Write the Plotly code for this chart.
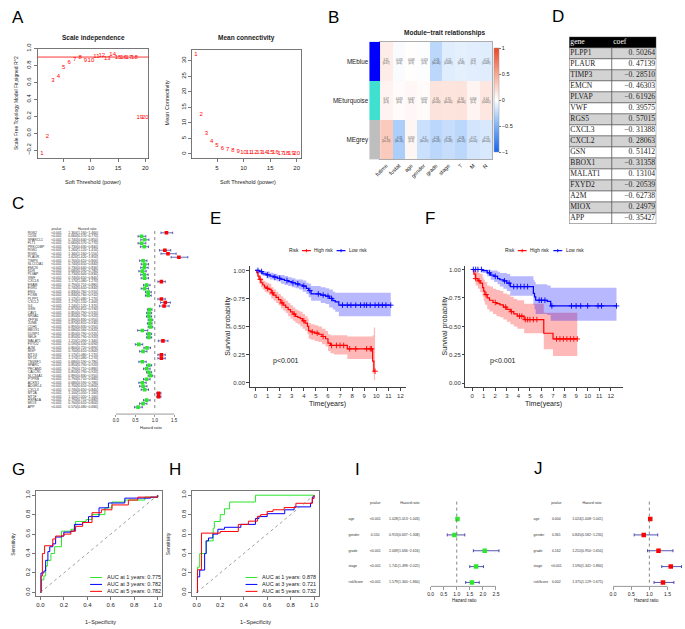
import plotly.graph_objects as go

W, H = 685, 629
FONT = "Liberation Sans"
SERIF = "Liberation Serif"

# ----------------------------- DATA -----------------------------
powers = list(range(1, 21))
sft_r2 = [-0.24, -0.04, 0.62, 0.67, 0.78, 0.83, 0.87, 0.90, 0.86, 0.86,
          0.91, 0.92, 0.88, 0.93, 0.90, 0.90, 0.90, 0.90, 0.18, 0.18]
mean_k = [32.0, 12.7, 6.6, 4.0, 2.7, 1.8, 1.4, 1.0, 0.85, 0.6,
          0.5, 0.45, 0.4, 0.35, 0.3, 0.3, 0.25, 0.25, 0.2, 0.2]

traits = ["futime", "fustat", "age", "gender", "grade", "stage", "T", "M", "N"]
modules = ["MEblue", "MEturquoise", "MEgrey"]
module_colors = ["#0000FF", "#40E0D0", "#BEBEBE"]
cor_blue = [0.11, -0.025, 0.008, -0.013, -0.26, -0.12, -0.1, -0.11, -0.12]
cor_turq = [0.07, 0.023, 0.047, 0.022, 0.16, 0.15, 0.16, 0.056, 0.14]
cor_grey = [0.3, -0.32, 0.053, -0.2, -0.26, -0.22, -0.26, -0.17, -0.15]
p_blue = ["0.07", "0.6", "0.9", "0.8", "6e-06", "0.009", "0.08", "0.1", "0.009"]
p_turq = ["0.3", "0.6", "0.3", "0.6", "2e-04", "4e-04", "6e-04", "0.2", "0.001"]
p_grey = ["1e-13", "6e-16", "0.3", "4e-05", "2e-09", "7e-08", "5e-10", "1e-04", "4e-04"]

table_genes = ["PLPP1", "PLAUR", "TIMP3", "EMCN", "PLVAP", "VWF", "RGS5", "CXCL3",
               "CXCL2", "GSN", "BBOX1", "MALAT1", "FXYD2", "A2M", "MIOX", "APP"]
table_coef = [0.50264, 0.47139, -0.28510, -0.46303, -0.61926, 0.39575, 0.57015, -0.31388,
              0.28063, 0.51412, -0.31358, 0.13104, -0.20539, -0.62738, 0.24979, -0.35427]

c_genes = ["RGS2", "CD34", "SPARCL1", "FLT1", "PRKCDBP", "RGS1", "RGS5", "PLAUR", "TIMP3", "SLCO2A1",
           "EMCN", "KDR", "PLVAP", "VWF", "CXCL8", "ESAM", "EGR1", "ENG", "FOSB", "PLPP1",
           "CXCL2", "IL6", "GSN", "CAV1", "NR4A1", "ZFP36", "JUNB", "CDH5", "BBOX1", "DUSP1",
           "SELE", "MALAT1", "FXYD2", "A2M", "MGP", "MT1G", "MT1X", "TM4SF1", "SPARC", "PECAM1",
           "CALCRL", "SLC34A1", "PTPRB", "ACKR1", "ADGRL4", "CXCL3", "MT2A", "MT1F", "HSPA1A", "MIOX",
           "APP"]
c_hr = [1.30, 0.66, 0.74, 0.66, 0.73, 1.26, 1.34, 1.62, 0.70, 0.74,
        0.73, 0.68, 0.73, 0.74, 1.17, 0.79, 0.74, 0.83, 0.83, 1.17,
        1.27, 1.24, 0.87, 0.85, 0.85, 0.89, 0.87, 0.89, 0.68, 0.85,
        0.85, 1.21, 0.59, 0.80, 0.70, 1.17, 1.17, 0.68, 0.85, 0.79,
        0.85, 0.89, 0.79, 0.68, 0.70, 0.74, 1.10, 1.10, 0.79, 0.70,
        0.57]
c_lo = [1.16, 0.57, 0.64, 0.57, 0.63, 1.12, 1.16, 1.42, 0.61, 0.65,
        0.64, 0.59, 0.64, 0.65, 1.08, 0.71, 0.65, 0.76, 0.76, 1.08,
        1.15, 1.12, 0.81, 0.79, 0.79, 0.83, 0.81, 0.83, 0.56, 0.79,
        0.79, 1.09, 0.50, 0.72, 0.61, 1.08, 1.08, 0.59, 0.79, 0.71,
        0.79, 0.83, 0.71, 0.59, 0.61, 0.65, 1.05, 1.05, 0.71, 0.61,
        0.48]
c_hi = [1.46, 0.77, 0.85, 0.77, 0.84, 1.41, 1.55, 1.85, 0.80, 0.84,
        0.83, 0.78, 0.83, 0.84, 1.27, 0.88, 0.84, 0.91, 0.91, 1.27,
        1.40, 1.37, 0.93, 0.92, 0.92, 0.95, 0.93, 0.95, 0.82, 0.92,
        0.92, 1.34, 0.69, 0.89, 0.80, 1.27, 1.27, 0.78, 0.92, 0.88,
        0.92, 0.95, 0.88, 0.78, 0.80, 0.84, 1.16, 1.16, 0.88, 0.80,
        0.68]

# Panel E (training set) Kaplan-Meier
e_high_t = [0, 0.1, 0.2, 0.3, 0.45, 0.6, 0.75, 0.9, 1.1, 1.3, 1.5, 1.7, 1.9, 2.1, 2.3, 2.5, 2.7, 2.9,
            3.1, 3.3, 3.5, 3.7, 3.9, 4.1, 4.3, 4.4, 4.6, 4.9, 5.2, 5.5, 5.8, 6.0, 6.2, 6.5, 7.6, 9.7, 9.8, 9.9]
e_high_s = [1.0, 0.98, 0.95, 0.92, 0.89, 0.87, 0.85, 0.84, 0.83, 0.80, 0.78, 0.76, 0.74, 0.71, 0.69, 0.67, 0.65, 0.63,
            0.61, 0.59, 0.58, 0.57, 0.55, 0.53, 0.50, 0.46, 0.45, 0.44, 0.43, 0.41, 0.39, 0.35, 0.33, 0.33, 0.30, 0.19, 0.10, 0.10]
e_high_up = [1.0, 1.0, 0.98, 0.96, 0.93, 0.91, 0.90, 0.89, 0.88, 0.85, 0.83, 0.81, 0.79, 0.77, 0.75, 0.73, 0.71, 0.69,
             0.67, 0.65, 0.64, 0.63, 0.61, 0.59, 0.57, 0.53, 0.52, 0.51, 0.50, 0.48, 0.46, 0.43, 0.42, 0.42, 0.41, 0.42, 0.49, 0.49]
e_high_lo = [1.0, 0.96, 0.92, 0.88, 0.85, 0.83, 0.81, 0.80, 0.78, 0.75, 0.73, 0.71, 0.69, 0.66, 0.64, 0.62, 0.59, 0.57,
             0.55, 0.53, 0.52, 0.50, 0.48, 0.46, 0.43, 0.39, 0.38, 0.37, 0.36, 0.34, 0.32, 0.28, 0.26, 0.25, 0.21, 0.08, 0.02, 0.02]
e_high_cens = [0.4, 1.0, 1.4, 2.2, 3.2, 4.0, 4.7, 5.1, 5.6, 6.3, 6.7, 7.0, 7.3, 7.8, 8.3, 9.2, 9.5, 9.6, 9.9]
e_low_t = [0, 0.3, 0.6, 0.9, 1.2, 1.5, 1.8, 2.1, 2.4, 2.7, 3.0, 3.3, 3.6, 3.9, 4.2, 4.4, 4.6, 5.4, 5.8,
           6.1, 6.4, 6.6, 6.9, 11.2]
e_low_s = [1.0, 0.99, 0.97, 0.96, 0.95, 0.94, 0.93, 0.92, 0.91, 0.90, 0.89, 0.88, 0.87, 0.86, 0.84, 0.82, 0.79, 0.78, 0.77,
           0.75, 0.73, 0.72, 0.69, 0.69]
e_low_up = [1.0, 1.0, 0.99, 0.99, 0.98, 0.97, 0.96, 0.96, 0.95, 0.94, 0.93, 0.92, 0.92, 0.91, 0.89, 0.88, 0.86, 0.85, 0.84,
            0.83, 0.81, 0.80, 0.80, 0.80]
e_low_lo = [1.0, 0.97, 0.95, 0.93, 0.92, 0.91, 0.90, 0.88, 0.87, 0.86, 0.85, 0.84, 0.83, 0.81, 0.79, 0.76, 0.73, 0.71, 0.70,
            0.67, 0.65, 0.63, 0.59, 0.59]
e_low_cens = [0.2, 0.5, 1.0, 1.6, 2.0, 2.6, 3.1, 3.5, 4.0, 4.5, 5.2, 5.6, 6.0, 6.3, 7.2, 7.6, 7.9, 8.3, 8.7,
              9.0, 9.2, 9.5, 9.9, 10.2, 10.5, 10.8, 11.2]

# Panel F (validation set) Kaplan-Meier
f_high_t = [0, 0.15, 0.3, 0.5, 0.7, 0.9, 1.0, 1.1, 1.3, 1.5, 1.8, 2.1, 2.4, 2.7, 3.0, 3.3, 3.6, 3.9, 4.5, 6.2, 7.0, 9.1]
f_high_s = [1.0, 0.96, 0.92, 0.90, 0.88, 0.84, 0.81, 0.78, 0.75, 0.73, 0.71, 0.70, 0.69, 0.67, 0.65, 0.63, 0.61, 0.59,
            0.56, 0.44, 0.39, 0.39]
f_high_up = [1.0, 1.0, 0.98, 0.97, 0.96, 0.93, 0.91, 0.89, 0.86, 0.85, 0.83, 0.82, 0.81, 0.79, 0.78, 0.76, 0.74, 0.73,
             0.70, 0.62, 0.62, 0.62]
f_high_lo = [1.0, 0.91, 0.86, 0.83, 0.80, 0.76, 0.72, 0.69, 0.65, 0.63, 0.61, 0.59, 0.58, 0.56, 0.54, 0.52, 0.50, 0.48,
             0.44, 0.30, 0.24, 0.24]
f_high_cens = [0.3, 0.6, 1.2, 2.0, 2.9, 3.4, 4.1, 4.3, 4.6, 4.8, 5.0, 5.3, 5.6, 7.3, 7.6, 7.9, 8.2, 8.5, 8.8, 9.1]
f_low_t = [0, 0.9, 1.3, 1.6, 1.9, 2.2, 2.4, 2.7, 3.0, 3.3, 5.3, 5.4, 5.5, 6.5, 6.8, 12.5]
f_low_s = [1.0, 0.99, 0.97, 0.95, 0.94, 0.92, 0.91, 0.90, 0.88, 0.85, 0.79, 0.76, 0.73, 0.72, 0.68, 0.68]
f_low_up = [1.0, 1.0, 1.0, 0.99, 0.99, 0.98, 0.97, 0.97, 0.96, 0.94, 0.91, 0.89, 0.87, 0.86, 0.84, 0.84]
f_low_lo = [1.0, 0.97, 0.94, 0.91, 0.89, 0.87, 0.85, 0.83, 0.81, 0.77, 0.69, 0.65, 0.61, 0.60, 0.55, 0.55]
f_low_cens = [0.1, 0.3, 0.5, 0.8, 1.5, 2.0, 2.8, 3.2, 3.6, 3.9, 4.2, 4.5, 4.8, 5.8, 6.0, 6.3, 6.9, 8.6, 9.0,
              9.4, 10.0, 10.9, 11.2, 12.5]

# Panel G ROC (training)
g1_fpr = [0, 0.01, 0.03, 0.045, 0.06, 0.09, 0.12, 0.18, 0.26, 0.30, 0.39, 0.44, 0.55, 0.61, 0.72, 0.89, 1.0]
g1_tpr = [0, 0.13, 0.17, 0.27, 0.33, 0.40, 0.47, 0.63, 0.65, 0.73, 0.75, 0.80, 0.87, 0.93, 0.95, 0.98, 1.0]
g3_fpr = [0, 0.005, 0.03, 0.045, 0.064, 0.08, 0.106, 0.13, 0.18, 0.2, 0.26, 0.29, 0.36, 0.41, 0.5, 0.58, 0.72, 0.94, 1.0]
g3_tpr = [0, 0.2, 0.22, 0.33, 0.42, 0.47, 0.5, 0.57, 0.58, 0.62, 0.63, 0.70, 0.72, 0.78, 0.87, 0.92, 0.97, 0.98, 1.0]
g5_fpr = [0, 0.006, 0.017, 0.036, 0.106, 0.13, 0.2, 0.26, 0.3, 0.36, 0.44, 0.52, 0.61, 0.75, 0.83, 1.0]
g5_tpr = [0, 0.17, 0.40, 0.48, 0.55, 0.58, 0.60, 0.63, 0.68, 0.72, 0.82, 0.85, 0.90, 0.95, 0.98, 1.0]
g_auc = ["0.775", "0.782", "0.782"]

# Panel H ROC (validation)
h1_fpr = [0, 0.006, 0.025, 0.08, 0.14, 0.15, 0.2, 0.236, 0.28, 0.5, 1.0]
h1_tpr = [0, 0.26, 0.40, 0.53, 0.66, 0.73, 0.80, 0.86, 0.93, 1.0, 1.0]
h3_fpr = [0, 0.006, 0.025, 0.067, 0.08, 0.1, 0.137, 0.18, 0.236, 0.376, 0.5, 0.53, 0.6, 0.75, 0.83, 0.97, 0.985, 1.0]
h3_tpr = [0, 0.16, 0.23, 0.40, 0.53, 0.56, 0.60, 0.65, 0.67, 0.70, 0.76, 0.78, 0.81, 0.85, 0.88, 0.92, 0.98, 1.0]
h5_fpr = [0, 0.006, 0.04, 0.2, 0.354, 0.44, 0.517, 0.545, 0.60, 0.65, 0.745, 0.845, 0.985, 1.0]
h5_tpr = [0, 0.233, 0.61, 0.627, 0.70, 0.733, 0.783, 0.80, 0.833, 0.85, 0.873, 0.917, 0.967, 1.0]
h_auc = ["0.878", "0.721", "0.732"]
roc_years = [1, 3, 5]

# Panels I / J (uni- and multivariate Cox)
ij_vars = ["age", "gender", "grade", "stage", "riskScore"]
i_p = ["<0.001", "0.510", "<0.001", "<0.001", "<0.001"]
i_hr = [1.028, 0.913, 2.069, 1.741, 1.579]
i_lo = [1.013, 0.637, 1.636, 1.498, 1.340]
i_hi = [1.043, 1.308, 2.616, 2.022, 1.860]
j_p = ["0.004", "0.361", "0.162", "<0.001", "0.002"]
j_hr = [1.024, 0.845, 1.252, 1.590, 1.375]
j_lo = [1.008, 0.582, 0.950, 1.341, 1.129]
j_hi = [1.041, 1.230, 1.650, 1.884, 1.675]

# ----------------------------- HELPERS -----------------------------
def px(p):
    return p / W


def py(p):
    return 1 - p / H


def xdom(a, b):
    return [px(a), px(b)]


def ydom(top, bottom):
    return [py(bottom), py(top)]


def sfx(n):
    return "" if n == 1 else str(n)


RED = "#FF0000"
GREEN = "#2CE62C"
BLUE = "#0000FF"
CI_BLUE = "#2A2A9E"
AX = "#555555"

fig = go.Figure()
layout = {}
shapes = []
annotations = []


def ann(text, x, y, size=6, bold=False, angle=0, xanchor="center", color="#222", family=FONT):
    if bold:
        text = "<b>" + text + "</b>"
    annotations.append(dict(text=text, x=px(x), y=py(y), xref="paper", yref="paper", showarrow=False,
                            xanchor=xanchor, yanchor="middle", textangle=angle,
                            font=dict(size=size, family=family, color=color)))


def axis(n, letter, dom, rng, **kw):
    d = dict(domain=dom, range=rng, showgrid=False, zeroline=False, showline=False, ticks="",
             showticklabels=False, anchor=("y" if letter == "x" else "x") + sfx(n), fixedrange=True)
    d.update(kw)
    layout[f"{letter}axis{sfx(n)}"] = d


def XA(n):
    return "x" + sfx(n)


def YA(n):
    return "y" + sfx(n)


def rbox(**kw):
    d = dict(showline=True, mirror=True, linecolor=AX, linewidth=0.8, ticks="outside", ticklen=3,
             tickcolor=AX, tickwidth=0.8, showticklabels=True, tickfont=dict(size=6, color="#222"))
    d.update(kw)
    return d


def step_at(ts, ss, t):
    v = ss[0]
    for a, b in zip(ts, ss):
        if a <= t:
            v = b
    return v


# ----------------------------- PANEL A -----------------------------
axis(1, "x", xdom(32, 144), [0.2, 20.6], **rbox(tickvals=[5, 10, 15, 20]))
axis(1, "y", ydom(43, 154), [-0.3, 1.0], **rbox(tickvals=[-0.2, 0, 0.2, 0.4, 0.6, 0.8, 1.0],
                                                 ticktext=["−0.2", "0.0", "0.2", "0.4", "0.6", "0.8", "1.0"],
                                                 tickangle=-90))
fig.add_trace(go.Scatter(x=powers, y=sft_r2, mode="text", text=[str(p) for p in powers],
                         textfont=dict(color=RED, size=6, family=FONT), xaxis=XA(1), yaxis=YA(1),
                         cliponaxis=False))
shapes.append(dict(type="line", xref="x domain", yref="y", x0=0, x1=1, y0=0.9, y1=0.9,
                   line=dict(color=RED, width=0.8)))
ann("Scale independence", 88, 32, size=6.5, bold=True)
ann("Soft Threshold (power)", 88, 178, size=5.5)
ann("Scale Free Topology Model Fit,signed R^2", 10, 98, size=5, angle=-90)

axis(2, "x", xdom(188, 298), [0.3, 20.8], **rbox(tickvals=[5, 10, 15, 20]))
axis(2, "y", ydom(44, 154), [-1.5, 33.6], **rbox(tickvals=[0, 5, 10, 15, 20, 25, 30], tickangle=-90))
fig.add_trace(go.Scatter(x=powers, y=mean_k, mode="text", text=[str(p) for p in powers],
                         textfont=dict(color=RED, size=6, family=FONT), xaxis=XA(2), yaxis=YA(2),
                         cliponaxis=False))
ann("Mean connectivity", 243, 32, size=6.5, bold=True)
ann("Soft Threshold (power)", 245, 178, size=5.5)
ann("Mean Connectivity", 163, 98, size=5.5, angle=-90)

# ----------------------------- PANEL B -----------------------------
cor_z = [cor_blue, cor_turq, cor_grey]
cor_p_all = [p_blue, p_turq, p_grey]
cell_text = [[f"{v:g}<br>({p})" for v, p in zip(row, prow)] for row, prow in zip(cor_z, cor_p_all)]
axis(3, "x", xdom(378, 491), [-0.5, 8.5], showline=True, mirror=True, linecolor="#999", linewidth=0.8,
     showticklabels=True, tickvals=list(range(len(traits))), ticktext=traits, tickangle=-45,
     tickfont=dict(size=5.5, color="#222"))
axis(3, "y", ydom(36, 155), [2.5, -0.5], showline=True, mirror=True, linecolor="#999", linewidth=0.8)
bwr = [[0.0, "#1464F0"], [0.25, "#7DB2F7"], [0.5, "#FFFFFF"], [0.75, "#F7A891"], [1.0, "#EE4322"]]
fig.add_trace(go.Heatmap(z=cor_z, x=list(range(len(traits))), y=list(range(len(modules))),
                         zmin=-1, zmax=1, colorscale=bwr, text=cell_text, texttemplate="%{text}",
                         textfont=dict(size=2.6, color="#444", family=FONT), xgap=0, ygap=0,
                         xaxis=XA(3), yaxis=YA(3),
                         colorbar=dict(x=px(493), xanchor="left", y=py(95), yanchor="middle", len=104,
                                       lenmode="pixels", thickness=5, thicknessmode="pixels",
                                       tickvals=[-1, -0.5, 0, 0.5, 1], ticktext=["−1", "−0.5", "0", "0.5", "1"],
                                       ticks="outside", ticklen=2, tickcolor="#777",
                                       tickfont=dict(size=5.5, family=FONT, color="#222"),
                                       outlinewidth=0.5, outlinecolor="#999", xpad=0, ypad=0)))
axis(4, "x", xdom(367, 378), [-0.5, 0.5])
axis(4, "y", ydom(36, 155), [2.5, -0.5], showticklabels=True, tickvals=list(range(len(modules))),
     ticktext=modules, tickfont=dict(size=6.3, color="#222"))
fig.add_trace(go.Heatmap(z=[[i] for i in range(len(modules))], x=[0], y=list(range(len(modules))),
                         zmin=0, zmax=2, showscale=False, hoverinfo="skip",
                         colorscale=[[0, module_colors[0]], [0.333, module_colors[0]],
                                     [0.333, module_colors[1]], [0.667, module_colors[1]],
                                     [0.667, module_colors[2]], [1, module_colors[2]]],
                         xaxis=XA(4), yaxis=YA(4)))
ann("Module−trait relationships", 443, 27, size=6.5, bold=True)

# ----------------------------- PANEL D (table) -----------------------------
NB = "\u00a0"
coef_text = [(f"{c:.5f}").replace(".", "." + NB).replace("-", "−") for c in table_coef]
n_t = len(table_genes)
t_rows = list(range(n_t + 1))          # row 0 = header
t_w = 88.0                              # table width in px units of its own axis
t_split = 43.0
axis(15, "x", xdom(569, 657), [0, t_w])
axis(15, "y", ydom(31, 220), [n_t + 0.5, -0.5])
t_fill = [[2]] + [[1] if i % 2 == 0 else [0] for i in range(n_t)]
fig.add_trace(go.Heatmap(z=t_fill, x0=t_w / 2, dx=t_w, y0=0, dy=1, zmin=0, zmax=2, showscale=False,
                         hoverinfo="skip",
                         colorscale=[[0, "#FFFFFF"], [0.5, "#D3D3D3"], [1, "#000000"]],
                         xaxis=XA(15), yaxis=YA(15)))
for r in range(n_t + 2):
    shapes.append(dict(type="line", xref=XA(15), yref=YA(15), x0=0, x1=t_w, y0=r - 0.5, y1=r - 0.5,
                       line=dict(color="#555", width=0.8)))
for xv, y0v in [(0, -0.5), (t_split, 0.5), (t_w, -0.5)]:
    shapes.append(dict(type="line", xref=XA(15), yref=YA(15), x0=xv, x1=xv, y0=y0v, y1=n_t + 0.5,
                       line=dict(color="#555", width=0.8)))
tfs = dict(size=7.6, family=SERIF, color="#222")
fig.add_trace(go.Scatter(x=[1.2, t_split + 1.5], y=[0, 0], mode="text", text=["gene", "coef"],
                         textposition="middle right", textfont=dict(size=7.6, family=SERIF, color="white"),
                         xaxis=XA(15), yaxis=YA(15), cliponaxis=False))
fig.add_trace(go.Scatter(x=[1.2] * n_t, y=t_rows[1:], mode="text", text=table_genes,
                         textposition="middle right", textfont=tfs, xaxis=XA(15), yaxis=YA(15), cliponaxis=False))
fig.add_trace(go.Scatter(x=[t_w - 1.2] * n_t, y=t_rows[1:], mode="text", text=coef_text,
                         textposition="middle left", textfont=tfs, xaxis=XA(15), yaxis=YA(15), cliponaxis=False))

# ----------------------------- PANEL C -----------------------------
n_c = len(c_genes)
rows_c = list(range(1, n_c + 1))
c_step = 3.52
c_top, c_bot = 222, 412
c_range = [1 + (c_bot - 229) / c_step, 1 + (c_top - 229) / c_step]
c_xmax = 1.9
axis(5, "x", xdom(111, 111 + c_xmax * 39.3), [0, c_xmax], ticks="outside", ticklen=2, tickcolor=AX,
     tickwidth=0.6, showticklabels=True, tickvals=[0, 0.5, 1.0, 1.5], ticktext=["0.0", "0.5", "1.0", "1.5"],
     tickfont=dict(size=4.5, color="#222"))
axis(5, "y", ydom(c_top, c_bot), c_range)
shapes.append(dict(type="line", xref="x5", yref="y5 domain", x0=0, x1=1.5, y0=0, y1=0,
                   line=dict(color=AX, width=0.6)))
shapes.append(dict(type="line", xref="x5", yref="y5", x0=1, x1=1, y0=0.5, y1=n_c + 0.5,
                   line=dict(color="#666", width=0.8, dash="dot")))
fig.add_trace(go.Scatter(x=c_hr, y=rows_c, mode="markers", xaxis=XA(5), yaxis=YA(5),
                         marker=dict(symbol="square", size=3.6, color=[RED if h > 1 else GREEN for h in c_hr]),
                         error_x=dict(type="data", symmetric=False, array=[h - m for h, m in zip(c_hi, c_hr)],
                                      arrayminus=[m - l for m, l in zip(c_hr, c_lo)], color=CI_BLUE,
                                      thickness=0.7, width=1.2)))
axis(6, "x", xdom(18, 110), [18, 110])
axis(6, "y", ydom(c_top, c_bot), c_range)
c_hr_text = [f"{h:.3f}({l:.3f}−{u:.3f})" for h, l, u in zip(c_hr, c_lo, c_hi)]
tf = dict(size=3.4, family=FONT, color="#333")
fig.add_trace(go.Scatter(x=[22] * n_c, y=rows_c, mode="text", text=c_genes, textposition="middle right",
                         textfont=tf, xaxis=XA(6), yaxis=YA(6), cliponaxis=False))
fig.add_trace(go.Scatter(x=[51] * n_c, y=rows_c, mode="text", text=["<0.001"] * n_c, textposition="middle center",
                         textfont=tf, xaxis=XA(6), yaxis=YA(6), cliponaxis=False))
fig.add_trace(go.Scatter(x=[63] * n_c, y=rows_c, mode="text", text=c_hr_text, textposition="middle right",
                         textfont=tf, xaxis=XA(6), yaxis=YA(6), cliponaxis=False))
fig.add_trace(go.Scatter(x=[51, 82], y=[0, 0], mode="text", text=["pvalue", "Hazard ratio"],
                         textposition="middle center", textfont=tf, xaxis=XA(6), yaxis=YA(6), cliponaxis=False))
ann("Hazard ratio", 147, 426, size=4)


# ----------------------------- PANELS E / F -----------------------------
def km_panel(n, t_hi, s_hi, up_hi, lo_hi, c_hi_, t_lo, s_lo, up_lo, lo_lo, c_lo_):
    for ts, up, lo, fc in [(t_hi, up_hi, lo_hi, "rgba(255,0,0,0.28)"), (t_lo, up_lo, lo_lo, "rgba(0,0,255,0.28)")]:
        fig.add_trace(go.Scatter(x=ts, y=lo, mode="lines", line=dict(width=0, shape="hv"), hoverinfo="skip",
                                 xaxis=XA(n), yaxis=YA(n)))
        fig.add_trace(go.Scatter(x=ts, y=up, mode="lines", line=dict(width=0, shape="hv"), fill="tonexty",
                                 fillcolor=fc, hoverinfo="skip", xaxis=XA(n), yaxis=YA(n)))
    for ts, ss, cens, col in [(t_hi, s_hi, c_hi_, RED), (t_lo, s_lo, c_lo_, BLUE)]:
        fig.add_trace(go.Scatter(x=ts, y=ss, mode="lines", line=dict(color=col, width=1.2, shape="hv"),
                                 xaxis=XA(n), yaxis=YA(n)))
        fig.add_trace(go.Scatter(x=cens, y=[step_at(ts, ss, c) for c in cens], mode="markers",
                                 marker=dict(symbol="cross-thin", size=4, line=dict(color=col, width=0.9)),
                                 xaxis=XA(n), yaxis=YA(n)))


def km_axes(n, x0, x1, xr, yr):
    axis(n, "x", xdom(x0, x1), xr, showline=True, linecolor="#111", linewidth=0.8, ticks="outside",
         ticklen=2.5, tickcolor="#111", tickwidth=0.8, showticklabels=True, tickvals=list(range(13)),
         tickfont=dict(size=6, color="#333"))
    axis(n, "y", ydom(262, 385), yr, showline=True, linecolor="#111", linewidth=0.8, ticks="outside",
         ticklen=2.5, tickcolor="#111", tickwidth=0.8, showticklabels=True,
         tickvals=[0, 0.25, 0.5, 0.75, 1.0], ticktext=["0.00", "0.25", "0.50", "0.75", "1.00"],
         tickfont=dict(size=6, color="#333"))


km_axes(7, 246, 404, [-0.5, 12.45], [-0.044, 1.044])
km_panel(7, e_high_t, e_high_s, e_high_up, e_high_lo, e_high_cens,
         e_low_t, e_low_s, e_low_up, e_low_lo, e_low_cens)
km_axes(8, 464, 623, [-0.6, 13.03], [-0.035, 1.035])
km_panel(8, f_high_t, f_high_s, f_high_up, f_high_lo, f_high_cens,
         f_low_t, f_low_s, f_low_up, f_low_lo, f_low_cens)

for cx_risk, hx0, htx, lx0, ltx, ylab_x, xlab_x, ptx in [(291, 299, 309, 334, 345, 224, 325, 268),
                                                         (509, 517, 527, 553, 564, 443, 543, 487)]:
    ann("Risk", cx_risk, 247, size=4.8)
    for x0, col, lab, tx in [(hx0, RED, "High risk", htx), (lx0, BLUE, "Low risk", ltx)]:
        shapes.append(dict(type="line", xref="paper", yref="paper", x0=px(x0), x1=px(x0 + 9), y0=py(247), y1=py(247),
                           line=dict(color=col, width=1.2)))
        shapes.append(dict(type="line", xref="paper", yref="paper", x0=px(x0 + 4.5), x1=px(x0 + 4.5),
                           y0=py(245.3), y1=py(248.7), line=dict(color=col, width=0.9)))
        ann(lab, tx, 247, size=4.8, xanchor="left")
    ann("Survival probability", ylab_x, 323, size=7, angle=-90)
    ann("Time(years)", xlab_x, 402, size=7)
    ann("p<0.001", ptx, 358, size=7, xanchor="left", color="#222")

# ----------------------------- PANELS G / H -----------------------------
roc_colors = [GREEN, BLUE, RED]


def roc_axes(n, x0, x1):
    axis(n, "x", xdom(x0, x1), [-0.04, 1.04], **rbox(tickvals=[0, 0.2, 0.4, 0.6, 0.8, 1.0],
                                                      ticktext=["0.0", "0.2", "0.4", "0.6", "0.8", "1.0"]))
    axis(n, "y", ydom(490, 596), [-0.04, 1.04], **rbox(tickvals=[0, 0.2, 0.4, 0.6, 0.8, 1.0],
                                                        ticktext=["0.0", "0.2", "0.4", "0.6", "0.8", "1.0"],
                                                        tickangle=-90))
    shapes.append(dict(type="line", xref=XA(n), yref=YA(n), x0=0, y0=0, x1=1, y1=1,
                       line=dict(color="#777", width=0.7, dash="dot")))


roc_axes(9, 30, 158)
for fx, ty, col in [(g1_fpr, g1_tpr, GREEN), (g3_fpr, g3_tpr, BLUE), (g5_fpr, g5_tpr, RED)]:
    fig.add_trace(go.Scatter(x=fx, y=ty, mode="lines", line=dict(color=col, width=1.0, shape="hv"),
                             xaxis=XA(9), yaxis=YA(9)))
roc_axes(10, 188, 316)
for fx, ty, col in [(h1_fpr, h1_tpr, GREEN), (h3_fpr, h3_tpr, BLUE), (h5_fpr, h5_tpr, RED)]:
    fig.add_trace(go.Scatter(x=fx, y=ty, mode="lines", line=dict(color=col, width=1.0, shape="hv"),
                             xaxis=XA(10), yaxis=YA(10)))

for lx, aucs in [(85, g_auc), (242, h_auc)]:
    for i, (yr, auc, col) in enumerate(zip(roc_years, aucs, roc_colors)):
        yy = 577 + i * 7
        shapes.append(dict(type="line", xref="paper", yref="paper", x0=px(lx), x1=px(lx + 12), y0=py(yy), y1=py(yy),
                           line=dict(color=col, width=1.0)))
        ann(f"AUC at {yr} years: {auc}", lx + 15, yy, size=5.5, xanchor="left")
ann("Sensitivity", 7, 543, size=5, angle=-90)
ann("1−Specificity", 95, 622, size=5.5)
ann("Sensitivity", 163, 543, size=5, angle=-90)
ann("1−Specificity", 252, 622, size=5.5)

# ----------------------------- PANELS I / J -----------------------------
rows_ij = list(range(1, len(ij_vars) + 1))
ij_range = [1 + (586 - 518) / 16, 1 + (497 - 518) / 16]
tf2 = dict(size=3.5, family=FONT, color="#333")


def cox_panel(n_txt, n_fp, tx0, tx1, lab_x, p_x, hr_x, hdr_x, fx0, ppu, xmax, ticks, hr, lo, hi, pv, col, xl_x):
    axis(n_txt, "x", xdom(tx0, tx1), [tx0, tx1])
    axis(n_txt, "y", ydom(497, 586), ij_range)
    hr_text = [f"{h:.3f}({l:.3f}−{u:.3f})" for h, l, u in zip(hr, lo, hi)]
    for xs, txt, pos in [([lab_x] * len(ij_vars), ij_vars, "middle right"),
                         ([p_x] * len(ij_vars), pv, "middle center"),
                         ([hr_x] * len(ij_vars), hr_text, "middle right")]:
        fig.add_trace(go.Scatter(x=xs, y=rows_ij, mode="text", text=txt, textposition=pos, textfont=tf2,
                                 xaxis=XA(n_txt), yaxis=YA(n_txt), cliponaxis=False))
    fig.add_trace(go.Scatter(x=[p_x, hdr_x], y=[0, 0], mode="text", text=["pvalue", "Hazard ratio"],
                             textposition="middle center", textfont=tf2, xaxis=XA(n_txt), yaxis=YA(n_txt),
                             cliponaxis=False))
    axis(n_fp, "x", xdom(fx0, fx0 + xmax * ppu), [0, xmax], ticks="outside", ticklen=2.5, tickcolor=AX,
         tickwidth=0.6, showticklabels=True, tickvals=ticks, ticktext=[f"{t:.1f}" for t in ticks],
         tickfont=dict(size=5, color="#222"))
    axis(n_fp, "y", ydom(497, 586), ij_range)
    shapes.append(dict(type="line", xref=XA(n_fp), yref=YA(n_fp) + " domain", x0=0, x1=ticks[-1], y0=0, y1=0,
                       line=dict(color=AX, width=0.6)))
    shapes.append(dict(type="line", xref=XA(n_fp), yref=YA(n_fp), x0=1, x1=1, y0=-0.1, y1=len(ij_vars) + 0.2,
                       line=dict(color="#666", width=0.8, dash="dot")))
    fig.add_trace(go.Scatter(x=hr, y=rows_ij, mode="markers", xaxis=XA(n_fp), yaxis=YA(n_fp),
                             marker=dict(symbol="square", size=4.5, color=col),
                             error_x=dict(type="data", symmetric=False, array=[u - h for u, h in zip(hi, hr)],
                                          arrayminus=[h - l for h, l in zip(hr, lo)], color=CI_BLUE,
                                          thickness=0.8, width=1.5)))
    ann("Hazard ratio", xl_x, 600, size=4.5)


cox_panel(11, 12, 340, 428, 346, 373, 387, 408, 429, 26.4, 2.7, [0, 0.5, 1.0, 1.5, 2.0, 2.5],
          i_hr, i_lo, i_hi, i_p, GREEN, 463)
cox_panel(13, 14, 525, 612, 533, 556, 572, 592, 613.3, 36.7, 1.93, [0, 0.5, 1.0, 1.5],
          j_hr, j_lo, j_hi, j_p, RED, 647)

# ----------------------------- PANEL LETTERS -----------------------------
for letter, lx, ly in [("A", 12, 12), ("B", 331, 12), ("D", 558, 11), ("C", 12, 199), ("E", 212, 215),
                       ("F", 428, 215), ("G", 13, 468), ("H", 171, 468), ("I", 355, 468), ("J", 538, 467)]:
    ann(letter, lx, ly, size=17, color="#000")

fig.update_layout(width=W, height=H, margin=dict(l=0, r=0, t=0, b=0), paper_bgcolor="white",
                  plot_bgcolor="white", showlegend=False, font=dict(family=FONT, size=6, color="#222"),
                  shapes=shapes, annotations=annotations, **layout)

fig.write_html("out.html", config={"displayModeBar": False, "staticPlot": True},
               post_script="document.body.style.margin='0';document.body.style.overflow='hidden';")
